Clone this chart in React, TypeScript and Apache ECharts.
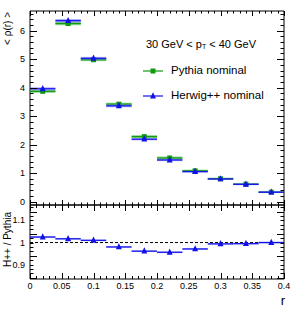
import React, { useEffect, useRef } from "react";
import * as echarts from "echarts";

const rCenters = [0.02, 0.06, 0.1, 0.14, 0.18, 0.22, 0.26, 0.3, 0.34, 0.38];
const pythia = [3.87, 6.25, 4.98, 3.42, 2.28, 1.53, 1.08, 0.8, 0.61, 0.33];
const herwig = [3.96, 6.35, 5.03, 3.36, 2.19, 1.46, 1.05, 0.795, 0.607, 0.33];
const ratio = [1.025, 1.017, 1.01, 0.98, 0.961, 0.956, 0.971, 0.994, 0.995, 1.0];
const pythiaErr = [0.05, 0.06, 0.05, 0.05, 0.05, 0.05, 0.04, 0.04, 0.03, 0.03];
const herwigErr = [0.05, 0.06, 0.05, 0.05, 0.04, 0.04, 0.03, 0.03, 0.03, 0.03];
const ratioErr = [0.004, 0.004, 0.004, 0.004, 0.004, 0.004, 0.004, 0.004, 0.004, 0.004];
const binHalf = 0.02;

const xTicks = [0, 0.05, 0.1, 0.15, 0.2, 0.25, 0.3, 0.35, 0.4];
const topYTicks = [0, 1, 2, 3, 4, 5, 6];
const ratioYTicks = [0.9, 1, 1.1];

const X_MIN = 0, X_MAX = 0.4;
const TOP_MIN = -0.12, TOP_MAX = 6.69;
const RAT_MIN = 0.835, RAT_MAX = 1.17;

const GREEN = "#0f9a0f";
const GREEN_BAND = "rgba(40,170,40,0.55)";
const BLUE = "#1010e8";
const BLUE_BAND = "rgba(110,110,255,0.55)";
const FONT = "Liberation Sans";

function histItem(color: string, band: string, marker: "square" | "triangle") {
  return (params: any, api: any) => {
    const c = api.value(0), v = api.value(1), e = api.value(2);
    const pL = api.coord([c - binHalf, v]);
    const pR = api.coord([c + binHalf, v]);
    const pT = api.coord([c, v + e]);
    const pB = api.coord([c, v - e]);
    const pc = api.coord([c, v]);
    const children: any[] = [
      { type: "rect", shape: { x: pL[0], y: pT[1], width: pR[0] - pL[0], height: Math.max(1, pB[1] - pT[1]) }, style: { fill: band } },
      { type: "line", shape: { x1: pL[0], y1: pL[1], x2: pR[0], y2: pR[1] }, style: { stroke: color, lineWidth: 1.2 } },
    ];
    if (marker === "square") {
      children.push({ type: "rect", shape: { x: pc[0] - 2.5, y: pc[1] - 2.5, width: 5, height: 5 }, style: { fill: color } });
    } else {
      children.push({ type: "polygon", shape: { points: [[pc[0], pc[1] - 3.8], [pc[0] - 3, pc[1] + 2.4], [pc[0] + 3, pc[1] + 2.4]] }, style: { fill: color } });
    }
    return { type: "group", children };
  };
}

function range(a: number, b: number, step: number) {
  const out: number[] = [];
  for (let v = a; v <= b + 1e-9; v += step) out.push(+v.toFixed(4));
  return out;
}

function ticksItem(yMin: number, yMax: number, yMinorStep: number, yMajorStep: number, yStart: number, xLen: [number, number], yLen: [number, number]) {
  return (params: any, api: any) => {
    const children: any[] = [];
    const st = { stroke: "#000", lineWidth: 1 };
    const xs = range(X_MIN, X_MAX, 0.01);
    xs.forEach((x) => {
      const major = Math.abs(x / 0.05 - Math.round(x / 0.05)) < 1e-6;
      const L = major ? xLen[0] : xLen[1];
      const b = api.coord([x, yMin]);
      const t = api.coord([x, yMax]);
      const px = Math.round(b[0]) + 0.5;
      children.push({ type: "line", shape: { x1: px, y1: b[1], x2: px, y2: b[1] - L }, style: st });
      children.push({ type: "line", shape: { x1: px, y1: t[1], x2: px, y2: t[1] + L }, style: st });
    });
    const ys = range(yStart, yMax, yMinorStep);
    ys.forEach((y) => {
      if (y < yMin) return;
      const major = Math.abs((y - yStart) / yMajorStep - Math.round((y - yStart) / yMajorStep)) < 1e-6;
      const L = major ? yLen[0] : yLen[1];
      const l = api.coord([X_MIN, y]);
      const r = api.coord([X_MAX, y]);
      const py = Math.round(l[1]) + 0.5;
      children.push({ type: "line", shape: { x1: l[0], y1: py, x2: l[0] + L, y2: py }, style: st });
      children.push({ type: "line", shape: { x1: r[0], y1: py, x2: r[0] - L, y2: py }, style: st });
    });
    return { type: "group", children };
  };
}

export default function App() {
  const ref = useRef<HTMLDivElement>(null);
  useEffect(() => {
    const chart = echarts.init(ref.current!, undefined, { renderer: "svg" });
    const axisLbl = { fontFamily: FONT, fontSize: 9, color: "#000" };
    const option: any = {
      animation: false,
      backgroundColor: "#fff",
      grid: [
        { left: 30, right: 16, top: 11, height: 194, show: true, borderColor: "#000", borderWidth: 1, backgroundColor: "transparent" },
        { left: 30, right: 16, top: 205, height: 74, show: true, borderColor: "#000", borderWidth: 1, backgroundColor: "transparent" },
      ],
      xAxis: [
        { type: "value", gridIndex: 0, min: X_MIN, max: X_MAX, interval: 0.05, axisLine: { show: false }, axisTick: { show: false }, axisLabel: { show: false }, splitLine: { show: false } },
        {
          type: "value", gridIndex: 1, min: X_MIN, max: X_MAX, interval: 0.05, axisLine: { show: false }, axisTick: { show: false }, splitLine: { show: false },
          axisLabel: { ...axisLbl, margin: 2, lineHeight: 9, showMinLabel: true, showMaxLabel: true, formatter: (v: number) => String(+v.toFixed(2)), customValues: xTicks },
        },
      ],
      yAxis: [
        {
          type: "value", gridIndex: 0, min: TOP_MIN, max: TOP_MAX, axisLine: { show: false }, axisTick: { show: false }, splitLine: { show: false },
          axisLabel: { ...axisLbl, margin: 5, customValues: topYTicks, formatter: (v: number) => String(v) },
        },
        {
          type: "value", gridIndex: 1, min: RAT_MIN, max: RAT_MAX, axisLine: { show: false }, axisTick: { show: false }, splitLine: { show: false },
          axisLabel: { ...axisLbl, margin: 5, customValues: ratioYTicks, formatter: (v: number) => String(+v.toFixed(2)) },
        },
      ],
      series: [
        {
          type: "custom", xAxisIndex: 0, yAxisIndex: 0, clip: false, z: 3,
          renderItem: histItem(GREEN, GREEN_BAND, "square"),
          data: rCenters.map((c, i) => [c, pythia[i], pythiaErr[i]]),
        },
        {
          type: "custom", xAxisIndex: 0, yAxisIndex: 0, clip: false, z: 4,
          renderItem: histItem(BLUE, BLUE_BAND, "triangle"),
          data: rCenters.map((c, i) => [c, herwig[i], herwigErr[i]]),
        },
        {
          type: "line", xAxisIndex: 1, yAxisIndex: 1, symbol: "none", z: 2,
          lineStyle: { color: "#000", width: 1, type: [3, 2] },
          data: [[X_MIN, 1], [X_MAX, 1]],
        },
        {
          type: "custom", xAxisIndex: 1, yAxisIndex: 1, clip: false, z: 4,
          renderItem: histItem(BLUE, BLUE_BAND, "triangle"),
          data: rCenters.map((c, i) => [c, ratio[i], ratioErr[i]]),
        },
        {
          type: "custom", xAxisIndex: 0, yAxisIndex: 0, clip: false, z: 6,
          renderItem: ticksItem(TOP_MIN, TOP_MAX, 0.2, 1, 0, [5, 2.5], [7, 3.5]),
          data: [[0.2, 3]],
        },
        {
          type: "custom", xAxisIndex: 1, yAxisIndex: 1, clip: false, z: 6,
          renderItem: ticksItem(RAT_MIN, RAT_MAX, 0.02, 0.1, 0.84, [6, 3], [7, 3.5]),
          data: [[0.2, 1]],
        },
      ],
      graphic: [
        { type: "text", left: 146, top: 38, style: { text: "30 GeV < p{s|T} < 40 GeV", fontFamily: FONT, fontSize: 11, fill: "#000", rich: { s: { fontFamily: FONT, fontSize: 7, verticalAlign: "bottom", padding: [6, 0, 0, 0] } } } },
        { type: "line", shape: { x1: 143, y1: 71, x2: 163, y2: 71 }, style: { stroke: GREEN, lineWidth: 1.2 } },
        { type: "rect", shape: { x: 150.5, y: 68.5, width: 5, height: 5 }, style: { fill: GREEN } },
        { type: "text", left: 171, top: 64, style: { text: "Pythia nominal", fontFamily: FONT, fontSize: 11.5, fill: "#000" } },
        { type: "line", shape: { x1: 143, y1: 96, x2: 163, y2: 96 }, style: { stroke: BLUE, lineWidth: 1.2 } },
        { type: "polygon", shape: { points: [[153, 92.2], [150, 98.4], [156, 98.4]] }, style: { fill: BLUE } },
        { type: "text", left: 171, top: 89, style: { text: "Herwig++ nominal", fontFamily: FONT, fontSize: 11.5, fill: "#000" } },
        { type: "text", x: 7, y: 12, rotation: Math.PI / 2, style: { text: "< ρ(r) >", fontFamily: FONT, fontSize: 10, fill: "#000", align: "right", verticalAlign: "middle" } },
        { type: "text", x: 7, y: 212, rotation: Math.PI / 2, style: { text: "H++ / Pythia", fontFamily: FONT, fontSize: 10, fill: "#000", align: "right", verticalAlign: "middle" } },
        { type: "text", x: 285, y: 307, style: { text: "r", fontFamily: FONT, fontSize: 13, fill: "#000", align: "right", verticalAlign: "bottom" } },
      ],
    };
    chart.setOption(option);
    return () => chart.dispose();
  }, []);
  return <div ref={ref} style={{ width: 300, height: 322, position: "absolute", left: 0, top: 0 }} />;
}
